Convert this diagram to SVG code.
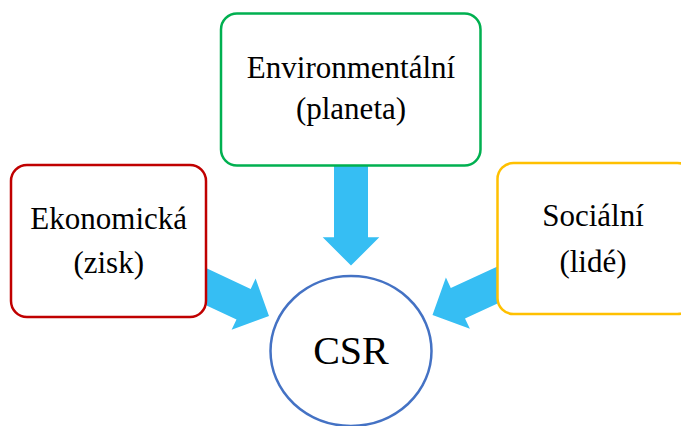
<svg xmlns="http://www.w3.org/2000/svg" width="681" height="426" viewBox="0 0 681 426">
<style>
.box{fill:#fff;stroke-width:2.5}
.arr{fill:#36BEF3;stroke:none}
</style>
<rect width="681" height="426" fill="#fff"/>
<g id="connectors">
<polygon class="arr" points="334,166 368,166 368,237.3 379.3,237.3 351,265.5 322.7,237.3 334,237.3"/>
<polygon class="arr" points="206,268.1 250.7,289 255.6,278.6 269,316 231.6,329.8 236.5,319.4 206,305.2"/>
<polygon class="arr" points="498,266.2 450.8,288 445.9,277.6 432.5,315 469.9,328.8 465,318.4 498,303.2"/>
</g>
<g font-family="Liberation Serif,'Times New Roman',serif" font-size="31" fill="#000" text-anchor="middle">
<g id="node-env">
<rect class="box" x="221" y="13.5" width="259.5" height="152" rx="16" stroke="#00B050"/>
<text x="351" y="77.5" fill="#000">Environmentální</text>
<text x="351" y="119" fill="#000">(planeta)</text>
</g>
<g id="node-eko">
<rect class="box" x="11" y="165" width="195" height="152" rx="16" stroke="#C00000"/>
<text x="108.7" y="229" fill="#000">Ekonomická</text>
<text x="108.7" y="272.5" fill="#000">(zisk)</text>
</g>
<g id="node-soc">
<rect class="box" x="497.5" y="163" width="196" height="151" rx="16" stroke="#FFC000"/>
<text x="593" y="225.5" fill="#000">Sociální</text>
<text x="593" y="271.5" fill="#000">(lidé)</text>
</g>
<g id="node-csr">
<ellipse cx="351" cy="351" rx="80.5" ry="75" fill="#fff" stroke="#4472C4" stroke-width="2.5"/>
<text x="351" y="363.5" font-size="40" fill="#000">CSR</text>
</g>
</g>
</svg>
